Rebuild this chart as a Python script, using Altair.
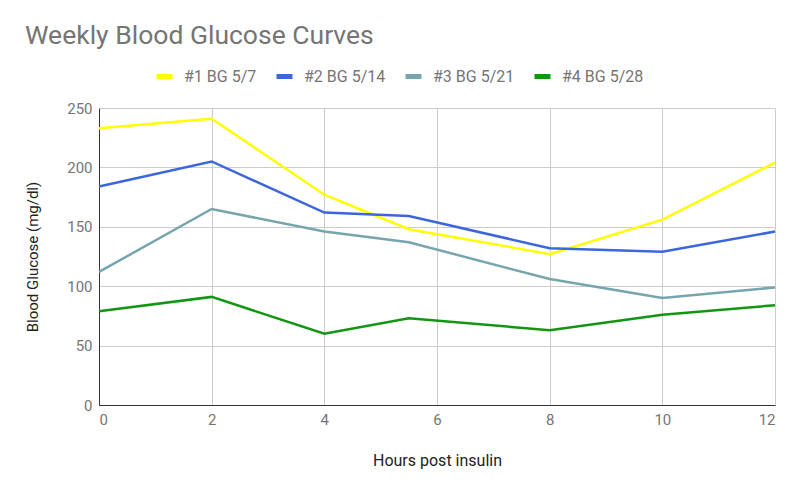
import altair as alt
import pandas as pd

hours = [0, 2, 4, 5.5, 8, 10, 12]
series_names = ["#1 BG 5/7", "#2 BG 5/14", "#3 BG 5/21", "#4 BG 5/28"]
bg1 = [233, 241, 177, 148, 127, 156, 204]
bg2 = [184, 205, 162, 159, 132, 129, 146]
bg3 = [112, 165, 146, 137, 106, 90, 99]
bg4 = [79, 91, 60, 73, 63, 76, 84]
colors = ["#ffff00", "#3c66dc", "#76a5af", "#129612"]
x_ticks = [0, 2, 4, 6, 8, 10, 12]
y_ticks = [0, 50, 100, 150, 200, 250]

rows = []
for name, vals in zip(series_names, [bg1, bg2, bg3, bg4]):
    for h, v in zip(hours, vals):
        rows.append({"Hours": h, "BG": v, "Series": name})
df = pd.DataFrame(rows)

chart = alt.Chart(df).mark_line(strokeWidth=2.5).encode(
    x=alt.X("Hours:Q", title="Hours post insulin",
            scale=alt.Scale(domain=[0, 12], nice=False),
            axis=alt.Axis(values=x_ticks, format="d")),
    y=alt.Y("BG:Q", title="Blood Glucose (mg/dl)",
            scale=alt.Scale(domain=[0, 250], nice=False),
            axis=alt.Axis(values=y_ticks)),
    color=alt.Color("Series:N", scale=alt.Scale(domain=series_names, range=colors),
                    legend=alt.Legend(title=None, orient="none", direction="horizontal",
                                      legendX=55, legendY=-42, gridAlign="none",
                                      symbolType="M-1,0H1", symbolSize=256,
                                      symbolStrokeWidth=5, labelOffset=9,
                                      columnPadding=9, labelFontSize=16,
                                      labelFont="Roboto", labelColor="#757575")),
).properties(
    width=676, height=297,
    title=alt.TitleParams("Weekly Blood Glucose Curves", anchor="start", frame="group",
                          dx=-74, offset=17, fontSize=26.5, font="Roboto",
                          fontWeight="normal", color="#757575"),
    autosize=alt.AutoSizeParams(type="none"),
    padding={"left": 91, "top": 100, "right": 17, "bottom": 81},
).configure_axis(
    labelFont="Roboto", labelFontSize=15, labelColor="#757575",
    titleFont="Roboto", titleFontSize=15, titleColor="#222222", titleFontWeight="normal",
    ticks=False, gridColor="#cccccc", gridWidth=1, domainColor="#333333", domainWidth=1,
    labelPadding=7,
).configure_axisY(titlePadding=26).configure_axisX(titlePadding=25, titleFontSize=16).configure_view(
    stroke=None
)

chart.save("out.html", embed_options={"renderer": "svg", "actions": False})
